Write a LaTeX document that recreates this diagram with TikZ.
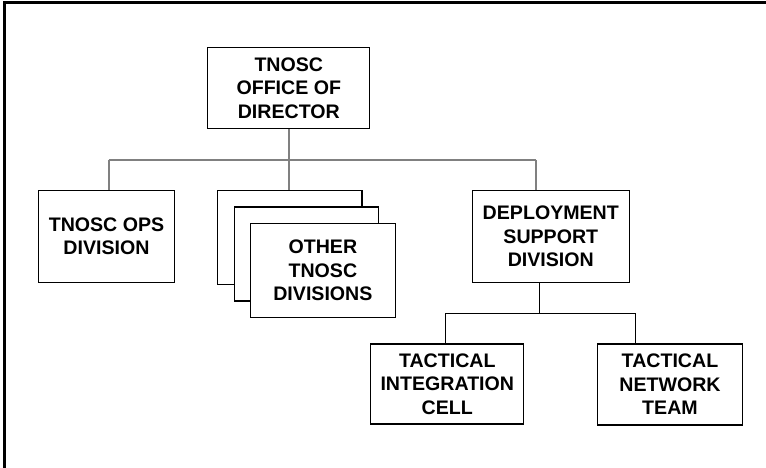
\documentclass[tikz,border=0pt]{standalone}
\usepackage{fontspec}
\setmainfont{Liberation Sans}
\begin{document}
\begin{tikzpicture}[x=1pt,y=-1pt,
  box/.style={draw=black,line width=1.1pt,fill=white,align=center,inner sep=0pt,
    font=\fontsize{19.6}{23.5}\selectfont\bfseries},
  graylink/.style={draw=black!50,line width=2pt},
  blacklink/.style={draw=black,line width=1.1pt}]
\useasboundingbox (0,0) rectangle (766,468);
% frame (left and top edges visible)
\draw[line width=3pt] (4.5,470) -- (4.5,3) -- (770,3);
% boxes
\node[box,minimum width=162pt,minimum height=81pt] (dir) at (288.8,88) {TNOSC\\OFFICE OF\\DIRECTOR};
\node[box,minimum width=136pt,minimum height=92pt] (ops) at (106.5,236.5) {TNOSC OPS\\DIVISION};
\node[box,minimum width=144.6pt,minimum height=94pt] (back) at (289.7,237.7) {};
\node[box,minimum width=144pt,minimum height=94pt] (mid) at (306.5,254) {};
\node[box,minimum width=144.6pt,minimum height=93.6pt] (front) at (322.9,270.5) {OTHER\\TNOSC\\DIVISIONS};
\node[box,minimum width=157pt,minimum height=91.6pt] (dep) at (550.8,236.5) {DEPLOYMENT\\SUPPORT\\DIVISION};
\node[box,minimum width=153pt,minimum height=80pt] (tic) at (447.3,384) {TACTICAL\\INTEGRATION\\CELL};
\node[box,minimum width=145.4pt,minimum height=81pt] (tnt) at (670,384.5) {TACTICAL\\NETWORK\\TEAM};
% upper connectors
\coordinate (busL) at (108.5,160);
\coordinate (busR) at (536.4,160);
\draw[graylink] (dir.south) -- (dir.south |- busL);
\draw[graylink] (busL) -- (busR);
\draw[graylink] (busL) -- (busL |- ops.north);
\draw[graylink] (dir.south |- busL) -- (dir.south |- back.north);
\draw[graylink] (busR) -- (busR |- dep.north);
% lower connectors
\coordinate (subL) at (445.7,313.3);
\coordinate (subR) at (635.3,313.3);
\coordinate (depdrop) at (539.3,0);
\draw[blacklink] (depdrop |- dep.south) -- (depdrop |- subL);
\draw[blacklink] (subL) -- (subR);
\draw[blacklink] (subL) -- (subL |- tic.north);
\draw[blacklink] (subR) -- (subR |- tnt.north);
\end{tikzpicture}
\end{document}
